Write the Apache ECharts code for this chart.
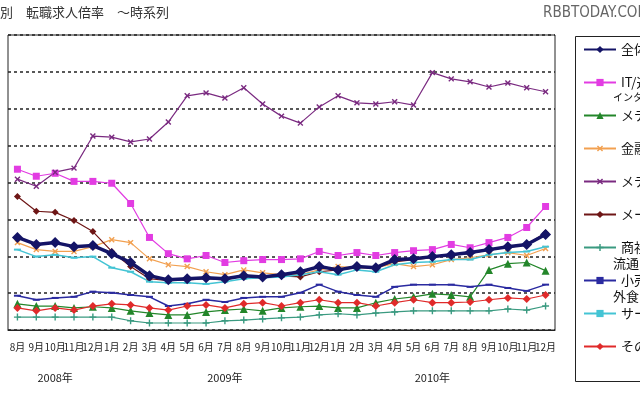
<!DOCTYPE html>
<html>
<head>
<meta charset="utf-8">
<script src="https://cdn.jsdelivr.net/npm/echarts@6/dist/echarts.min.js"></script>
<style>
html,body{margin:0;padding:0;background:#fff;}
#main{width:640px;height:400px;}
</style>
</head>
<body>
<div id="main"></div>
<script>
// 月ラベル (2008/8 - 2010/12)
var months = ['8月','9月','10月','11月','12月',
    '1月','2月','3月','4月','5月','6月','7月','8月','9月','10月','11月','12月',
    '1月','2月','3月','4月','5月','6月','7月','8月','9月','10月','11月','12月'];
var years = ['','','2008年','','','','','','','','','2009年','','','','','','','','','','','2010年','','','','','',''];

var zentai  = [2.51,2.32,2.37,2.26,2.29,2.07,1.83,1.47,1.36,1.39,1.42,1.39,1.47,1.44,1.50,1.58,1.72,1.63,1.72,1.69,1.91,1.93,1.99,2.04,2.10,2.18,2.26,2.32,2.59];
var itNet   = [4.36,4.17,4.25,4.03,4.03,3.98,3.43,2.51,2.07,1.93,2.02,1.83,1.88,1.91,1.91,1.93,2.13,2.02,2.10,2.02,2.10,2.15,2.18,2.32,2.23,2.37,2.51,2.78,3.35];
var medical = [0.71,0.65,0.65,0.60,0.63,0.60,0.52,0.46,0.41,0.41,0.49,0.54,0.57,0.52,0.60,0.63,0.65,0.60,0.60,0.74,0.84,0.90,0.98,0.95,0.90,1.63,1.80,1.83,1.61];
var kinyu   = [2.37,2.18,2.13,2.13,2.26,2.45,2.37,1.93,1.77,1.72,1.58,1.50,1.63,1.55,1.50,1.50,1.63,1.72,1.69,1.69,1.80,1.72,1.77,1.91,1.96,2.04,2.10,2.02,2.21];
var media   = [4.09,3.90,4.28,4.39,5.26,5.23,5.10,5.18,5.64,6.35,6.43,6.29,6.57,6.13,5.80,5.61,6.05,6.35,6.16,6.13,6.19,6.10,6.98,6.81,6.73,6.59,6.70,6.57,6.46];
var maker   = [3.62,3.22,3.19,2.97,2.67,2.13,1.72,1.39,1.34,1.36,1.39,1.36,1.47,1.42,1.47,1.44,1.58,1.63,1.69,1.69,1.85,1.91,1.96,2.04,2.07,2.18,2.23,2.32,2.64];
var shosha  = [0.35,0.35,0.35,0.35,0.35,0.35,0.25,0.19,0.19,0.19,0.19,0.25,0.27,0.30,0.33,0.35,0.41,0.44,0.41,0.46,0.49,0.52,0.52,0.52,0.52,0.52,0.57,0.54,0.65];
var kouri   = [0.93,0.82,0.87,0.90,1.04,1.01,0.95,0.90,0.65,0.71,0.82,0.76,0.87,0.90,0.90,1.01,1.23,1.04,0.95,0.90,1.17,1.23,1.23,1.23,1.17,1.23,1.14,1.06,1.23];
var service = [2.18,1.99,2.04,1.96,1.99,1.69,1.58,1.31,1.28,1.28,1.25,1.31,1.39,1.42,1.44,1.50,1.58,1.50,1.63,1.58,1.77,1.83,1.85,1.91,1.91,2.04,2.10,2.13,2.26];
var sonota  = [0.60,0.52,0.60,0.54,0.65,0.71,0.68,0.60,0.54,0.65,0.68,0.60,0.71,0.74,0.65,0.74,0.82,0.74,0.74,0.65,0.74,0.82,0.74,0.74,0.76,0.82,0.87,0.84,0.95];

var PLUS = 'path://M4,0H6V4H10V6H6V10H4V6H0V4H4Z';
var FONT = '"Noto Sans CJK JP"';

function line(name, data, color, symbol, size, width, rotate){
    return {
        name: name, type: 'line', data: data,
        symbol: symbol, symbolSize: size, symbolRotate: rotate || 0,
        lineStyle: {color: color, width: width},
        itemStyle: {color: color},
        z: name == '全体' ? 5 : 2
    };
}

var chart = echarts.init(document.getElementById('main'));
chart.setOption({
    animation: false,
    textStyle: {fontFamily: FONT},
    grid: {left: 8, right: 85, top: 35, bottom: 70, show: true, borderColor: '#222', borderWidth: 1},
    legend: {
        orient: 'vertical', left: 578, top: 38, itemWidth: 32, itemHeight: 9, itemGap: 20,
        textStyle: {fontSize: 13, color: '#111', fontFamily: FONT},
        data: ['全体','IT/通信','メディカル','金融','メディア','メーカー','商社／','小売／','サービス','その他']
    },
    xAxis: [{
        type: 'category', data: months, boundaryGap: true,
        axisLine: {lineStyle: {color: '#222'}},
        axisTick: {length: 32, lineStyle: {color: '#222'}},
        axisLabel: {color: '#222', fontSize: 10, margin: 12, interval: 0}
    },{
        type: 'category', data: years, boundaryGap: true, position: 'bottom',
        axisLine: {show: false},
        axisTick: {length: 56, lineStyle: {color: '#222'},
            interval: function(i){ return i == 0 || i == 5 || i == 17; }},
        axisLabel: {color: '#222', fontSize: 11, margin: 42, interval: 0}
    }],
    yAxis: {
        type: 'value', min: 0, max: 8, interval: 1,
        axisLabel: {show: false}, axisTick: {show: false},
        axisLine: {show: false},
        splitLine: {lineStyle: {color: '#222', type: [3, 3], width: 1.5}}
    },
    graphic: [
        {type: 'text', left: -26, top: 6, style: {text: '業種別　転職求人倍率　～時系列', font: '13px ' + FONT, fill: '#333'}},
        {type: 'text', left: 543, top: 6, style: {text: 'RBBTODAY.COM', font: '15px "Liberation Sans Narrow", "DejaVu Sans Condensed"', fill: '#666'}},
        {type: 'rect', left: 573, top: 34, shape: {width: 80, height: 345}, style: {fill: 'none', stroke: '#222', lineWidth: 1}},
        {type: 'text', left: 613, top: 92, style: {text: 'インターネット', font: '10px ' + FONT, fill: '#111'}},
        {type: 'text', left: 613, top: 257, style: {text: '流通', font: '13px ' + FONT, fill: '#111'}},
        {type: 'text', left: 613, top: 290, style: {text: '外食', font: '13px ' + FONT, fill: '#111'}}
    ],
    series: [
        line('全体', zentai, '#141466', 'diamond', 11, 3.5),
        line('IT/通信', itNet, '#e23ce2', 'rect', 7, 1.2),
        line('メディカル', medical, '#23862a', 'triangle', 8, 1.2),
        line('金融', kinyu, '#f2a050', PLUS, 7, 1.2, 45),
        line('メディア', media, '#7a2a80', PLUS, 7, 1.2, 45),
        line('メーカー', maker, '#6e1616', 'diamond', 7, 1.2),
        line('商社／', shosha, '#3a9a80', PLUS, 7, 1.2),
        line('小売／', kouri, '#2a2aa0', 'rect', [7, 2], 1.5),
        line('サービス', service, '#44c4d4', 'rect', [7, 2], 1.5),
        line('その他', sonota, '#e02a2a', 'diamond', 8, 1.2)
    ]
});
</script>
</body>
</html>
